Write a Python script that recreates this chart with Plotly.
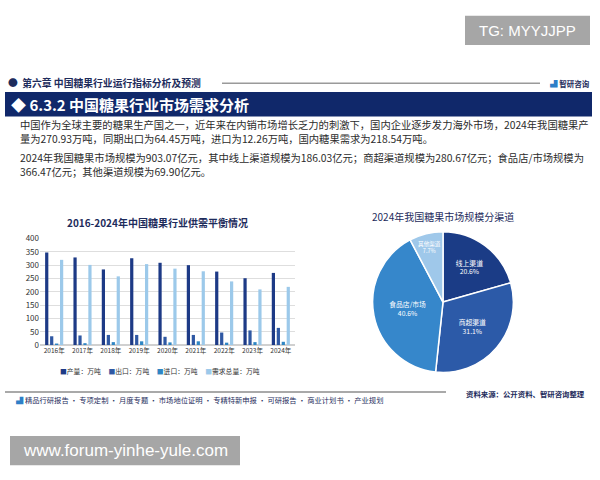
import plotly.graph_objects as go

W, H = 600, 480
FONT = "Noto Sans CJK SC"

years = ["2016年", "2017年", "2018年", "2019年", "2020年", "2021年", "2022年", "2023年", "2024年"]
production = [348, 329, 284, 326, 309, 300, 276, 251, 270.93]
exports = [33, 36, 38, 38, 31, 38, 47, 55, 64.45]
imports = [5, 7, 11, 14, 10, 14, 9, 11, 12.26]
demand = [320, 301, 258, 304, 287, 277, 239, 209, 218.54]
series_names = ["产量：万吨", "出口：万吨", "进口：万吨", "需求总量：万吨"]
bar_colors = ["#1d3a86", "#2f58a3", "#2f86c4", "#9cc9ea"]

channels = ["线上渠道", "商超渠道", "食品店/市场", "其他渠道"]
channel_values = [186.03, 280.67, 366.47, 69.90]
pie_colors = ["#1b3c86", "#2c5aa8", "#3687cb", "#9fc8ea"]

y_ticks = [0, 50, 100, 150, 200, 250, 300, 350, 400]


def px(x):
    return x / W


def py(y):
    return 1 - y / H


fig = go.Figure()

for name, vals, col in zip(series_names, [production, exports, imports, demand], bar_colors):
    fig.add_trace(go.Bar(x=years, y=vals, name=name, marker_color=col,
                         marker_line_width=0, showlegend=False,
                         xaxis="x", yaxis="y"))

fig.add_trace(go.Pie(labels=channels, values=channel_values, sort=False,
                     direction="clockwise", rotation=0,
                     marker=dict(colors=pie_colors, line=dict(color="white", width=1.5)),
                     texttemplate="%{label}<br>%{percent:.1%}",
                     textposition="inside", insidetextorientation="horizontal",
                     textfont=dict(color="white", size=6.8, family=FONT),
                     domain=dict(x=[px(371), px(515)], y=[py(375), py(231)]),
                     showlegend=False, hoverinfo="skip"))

shapes = []
ann = []


def text(x, y, t, size, color, family=FONT, xanchor="center"):
    ann.append(dict(x=px(x), y=py(y), xref="paper", yref="paper", text=t, showarrow=False,
                    xanchor=xanchor, yanchor="middle",
                    font=dict(family=family, size=size, color=color)))


# TG box
shapes.append(dict(type="rect", xref="paper", yref="paper", x0=px(465), x1=px(590), y0=py(40), y1=py(10),
                   fillcolor="#a6a6a6", line_width=0, layer="below"))
text(527.5, 25, "TG: MYYJJPP", 15, "white", family="Liberation Sans")

# chapter line
text(6, 79, "<b>●  第六章 中国糖果行业运行指标分析及预测</b>", 9.8, "#1e2c5c", xanchor="left")
shapes.append(dict(type="line", xref="paper", yref="paper", x0=px(222), x1=px(540), y0=py(79), y1=py(79),
                   line=dict(color="#9a9a9a", width=1.5)))
text(592, 79, "<b><span style='color:#2e7fc7'>▟</span> 智研咨询</b>", 7.5, "#1e2c5c", xanchor="right")

# banner
shapes.append(dict(type="rect", xref="paper", yref="paper", x0=px(5), x1=px(592), y0=py(113), y1=py(88),
                   fillcolor="#10286a", line_width=0, layer="below"))
text(9, 100.5, "<b>◆ 6.3.2 中国糖果行业市场需求分析</b>", 15, "white", xanchor="left")

# paragraphs
para = [
    (121, "中国作为全球主要的糖果生产国之一，近年来在内销市场增长乏力的刺激下，国内企业逐步发力海外市场，2024年我国糖果产"),
    (136, "量为270.93万吨，同期出口为64.45万吨，进口为12.26万吨，国内糖果需求为218.54万吨。"),
    (155, "2024年我国糖果市场规模为903.07亿元，其中线上渠道规模为186.03亿元；商超渠道规模为280.67亿元；食品店/市场规模为"),
    (169.5, "366.47亿元；其他渠道规模为69.90亿元。"),
]
for yy, t in para:
    text(18, yy, t, 10.3, "#2b2b2b", xanchor="left")

# chart titles
text(158, 222, "<b>2016-2024年中国糖果行业供需平衡情况</b>", 10, "#1e2c5c")
text(443, 215, "2024年我国糖果市场规模分渠道", 10, "#1e2c5c")

# legend (manual)
leg = "     ".join(f"<span style='color:{c}'>■</span>{n}" for n, c in zip(series_names, bar_colors))
text(160, 374, leg, 6.8, "#333333")

# footer
shapes.append(dict(type="line", xref="paper", yref="paper", x0=px(5), x1=px(446), y0=py(395), y1=py(395),
                   line=dict(color="#8c8c8c", width=1.5)))
text(14, 403, "<span style='color:#2e7fc7'>▟</span> 精品行研报告 • 专项定制 • 月度专题 • 市场地位证明 • 专精特新申报 • 可研报告 • 商业计划书 • 产业规划",
     7.3, "#1e2c5c", xanchor="left")
text(587, 397, "<b>资料来源：公开资料、智研咨询整理</b>", 7.4, "#1e2c5c", xanchor="right")

# bottom URL box
shapes.append(dict(type="rect", xref="paper", yref="paper", x0=px(10), x1=px(240), y0=py(470), y1=py(440),
                   fillcolor="#a6a6a6", line_width=0, layer="below"))
text(125, 455, "www.forum-yinhe-yule.com", 17, "white", family="Liberation Sans")

fig.update_layout(
    width=W, height=H, margin=dict(l=0, r=0, t=0, b=0),
    paper_bgcolor="white", plot_bgcolor="white",
    barmode="group", bargap=0.3, bargroupgap=0.35,
    xaxis=dict(domain=[px(40), px(295)], anchor="y", tickfont=dict(family=FONT, size=6.5, color="#333333"),
               showline=False, ticks="", showgrid=False),
    yaxis=dict(domain=[py(347), py(238)], anchor="x", range=[0, 400], tickvals=y_ticks,
               tickfont=dict(family=FONT, size=8, color="#333333"), showgrid=True,
               gridcolor="#dedede", gridwidth=1, zeroline=True, zerolinecolor="#d0d0d0", ticks="",
               showline=False),
    shapes=shapes, annotations=ann,
)

fig.write_html("out.html", config={"displayModeBar": False},
               post_script="document.body.style.margin='0px';")
